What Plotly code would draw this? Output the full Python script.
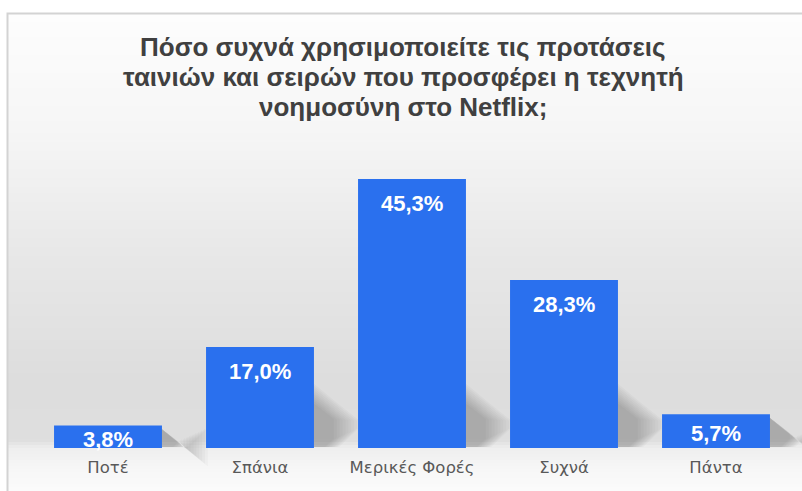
import plotly.graph_objects as go

# Survey answers and their shares (%)
categories = ["Ποτέ", "Σπάνια", "Μερικές Φορές", "Συχνά", "Πάντα"]
shares = [3.8, 17.0, 45.3, 28.3, 5.7]
share_labels = ["3,8%", "17,0%", "45,3%", "28,3%", "5,7%"]

title_lines = [
    "Πόσο συχνά χρησιμοποιείτε τις προτάσεις",
    "ταινιών και σειρών που προσφέρει η τεχνητή",
    "νοημοσύνη στο Netflix;",
]

W, H = 802, 491
M_L, M_R, M_T, M_B = 32, 10, 151, 43
Y_MAX = 50.0
BAR_W = 0.71
plot_w = W - M_L - M_R
plot_h = H - M_T - M_B
px_per_unit = plot_h / Y_MAX
px_per_cat = plot_w / len(categories)

fig = go.Figure()

fig.add_trace(go.Bar(
    x=categories,
    y=shares,
    width=BAR_W,
    marker=dict(color="#2a70ee", line=dict(width=0)),
    hoverinfo="skip",
))


def to_paper_y(p):
    return (H - M_B - p) / plot_h


def to_paper_x(p):
    return (p - M_L) / plot_w


# Background: soft vertical gray gradient, drawn as thin bands
stops = [(13, 253), (130, 246), (250, 232), (380, 221), (440, 222),
         (448, 238), (470, 247), (491, 251)]


def gray_at(p):
    for (p0, g0), (p1, g1) in zip(stops, stops[1:]):
        if p0 <= p <= p1:
            t = (p - p0) / (p1 - p0)
            return g0 + (g1 - g0) * t
    return stops[-1][1]


shapes = []
band = 3
p = 13
while p < H:
    g = int(round(gray_at(p + band / 2)))
    shapes.append(dict(
        type="rect", layer="below", xref="paper", yref="paper",
        x0=to_paper_x(8), x1=to_paper_x(W + 2),
        y0=to_paper_y(min(p + band, H + 2)), y1=to_paper_y(p),
        fillcolor=f"rgb({g},{g},{g})", line=dict(width=0),
    ))
    p += band

# Soft drop shadows cast to the right of each bar: many faint nested
# shapes stacked so the edges fade out like a blur
base = H - M_B
n_layers = 10
for i, v in enumerate(shares):
    right = M_L + (i + 0.5 + BAR_W / 2) * px_per_cat
    bar_px = v * px_per_unit
    for k in range(n_layers):
        t = k / (n_layers - 1)
        reach = 46 - 26 * t
        rise = min(bar_px - 2, 66 - 20 * t)
        if rise <= 4:
            continue
        top = base - rise
        pts = [
            (right - 2, top),
            (right + reach * 0.5, top + reach * 0.45),
            (right + reach, top + reach * 0.85),
            (right + reach, base - reach * 0.45),
            (right + reach * 0.55, base - 1),
            (right - 2, base - 1),
        ]
        path = "M " + " L ".join(
            f"{to_paper_x(x):.5f},{to_paper_y(y):.5f}" for x, y in pts) + " Z"
        shapes.append(dict(
            type="path", path=path, layer="below", xref="paper", yref="paper",
            fillcolor="rgba(0,0,0,0.022)", line=dict(width=0),
        ))

# Panel border
shapes.append(dict(
    type="rect", layer="above", xref="paper", yref="paper",
    x0=to_paper_x(7.5), x1=to_paper_x(W + 5),
    y0=to_paper_y(H + 5), y1=to_paper_y(13.5),
    fillcolor="rgba(0,0,0,0)", line=dict(color="#d3d3d3", width=2),
))

annotations = []

# Title, one line per annotation for tight line spacing
for j, line in enumerate(title_lines):
    annotations.append(dict(
        x=to_paper_x(W / 2 + 2), y=to_paper_y(47 + 30 * j),
        xref="paper", yref="paper",
        xanchor="center", yanchor="middle",
        text=f"<b>{line}</b>", showarrow=False,
        font=dict(family="Liberation Sans, Arial, sans-serif", size=26, color="#404040"),
    ))

# Value labels inside the top of each bar
text_h = 24
for cat, v, lab in zip(categories, shares, share_labels):
    bar_px = v * px_per_unit
    pad = min(10, max(0, (bar_px - text_h) / 2))
    annotations.append(dict(
        x=cat, y=v, xref="x", yref="y",
        text=f"<b>{lab}</b>", showarrow=False,
        yanchor="top", yshift=-pad,
        font=dict(family="Liberation Sans, Arial, sans-serif", size=22, color="#ffffff"),
    ))

fig.update_layout(
    width=W, height=H,
    margin=dict(l=M_L, r=M_R, t=M_T, b=M_B, pad=0),
    paper_bgcolor="#ffffff",
    plot_bgcolor="rgba(0,0,0,0)",
    showlegend=False,
    bargap=1 - BAR_W,
    xaxis=dict(
        showgrid=False, zeroline=False, showline=False, ticks="",
        tickfont=dict(family="DejaVu Sans, sans-serif", size=16.5, color="#595959"),
        ticklabelstandoff=7,
        fixedrange=True,
    ),
    yaxis=dict(
        range=[0, Y_MAX], visible=False, fixedrange=True,
    ),
    shapes=shapes,
    annotations=annotations,
)

fig.write_html("out.html")
